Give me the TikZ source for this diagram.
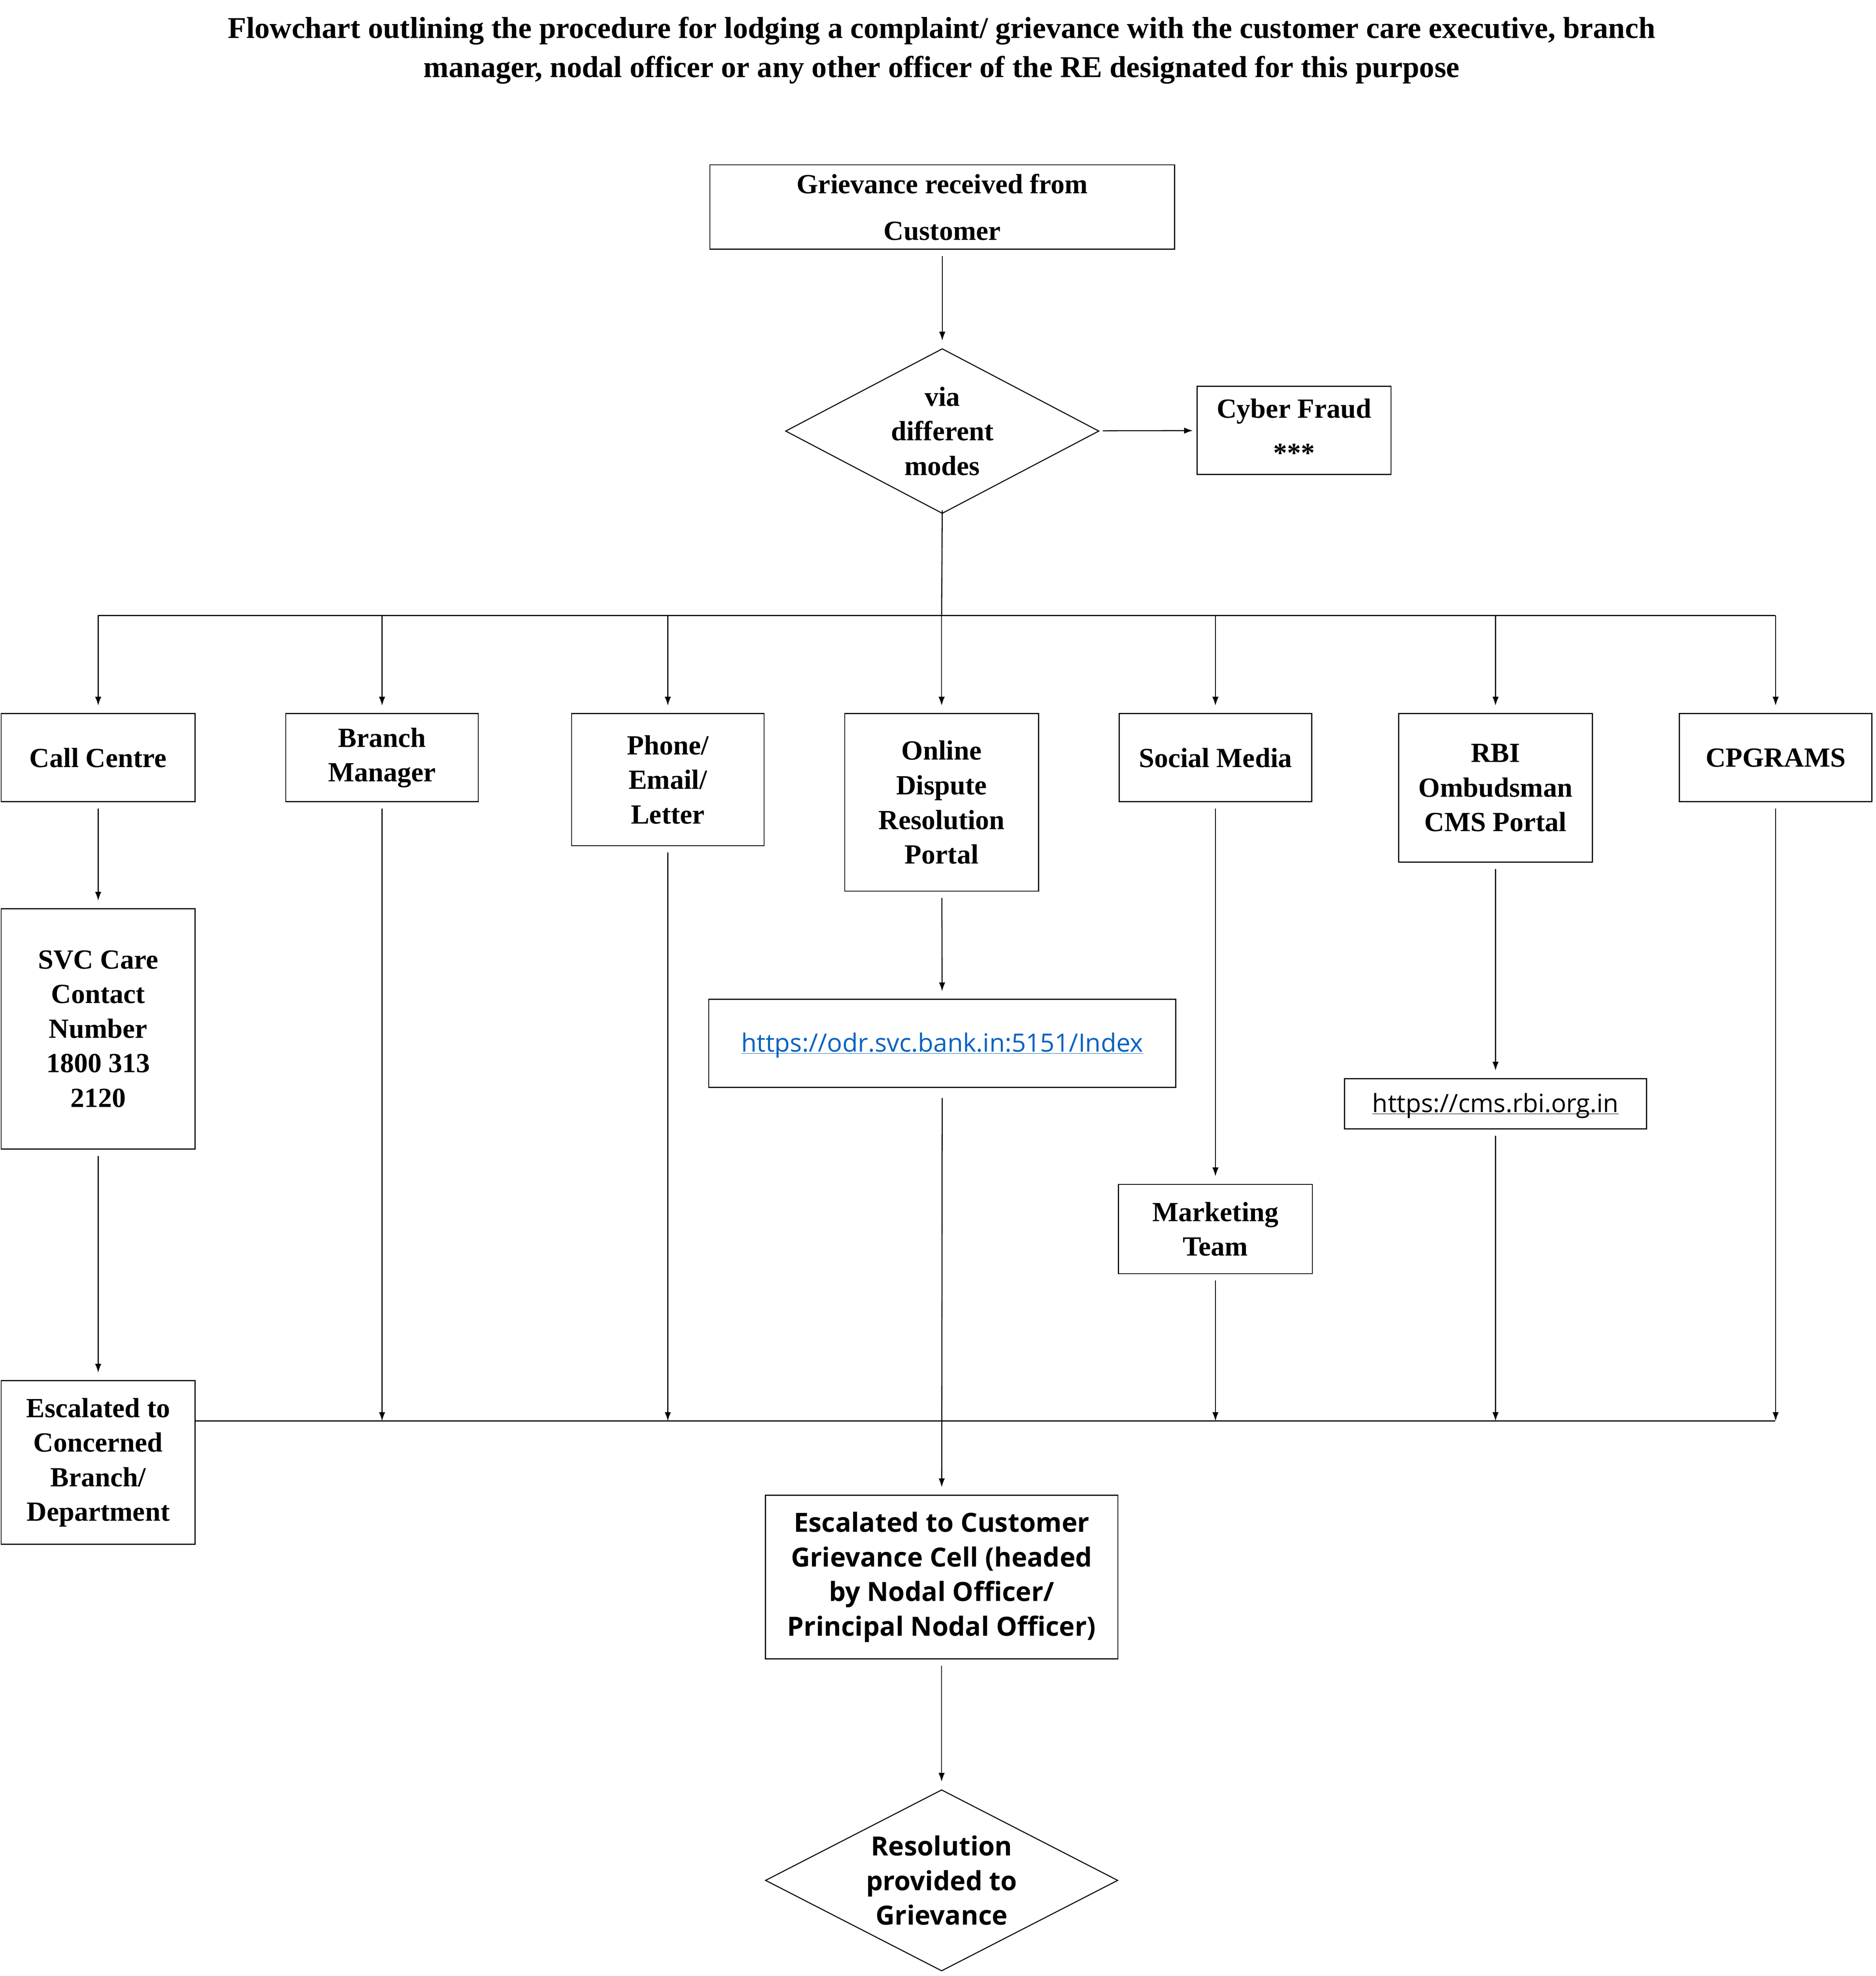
\documentclass[tikz,border=0pt]{standalone}
\usepackage{fontspec}
\setmainfont{Liberation Serif}
\newfontfamily\sansbold{Open Sans}
\newfontfamily\urlfont{Open Sans}
\usepackage{xcolor}
\usepackage{tikz}
\usetikzlibrary{positioning, arrows.meta, shapes.geometric, calc}

\definecolor{linkblue}{RGB}{5,99,193}

\begin{document}
\begin{tikzpicture}[x=1pt, y=-1pt,
    box/.style={draw, thick, rectangle, align=center, inner sep=2pt,
                font=\fontsize{22}{27.5}\selectfont\bfseries},
    sbox/.style={box, font=\fontsize{21}{27.5}\selectfont\sansbold\bfseries},
    dec/.style={draw, thick, diamond, aspect=1.75, inner sep=0pt, align=center,
                font=\fontsize{22}{27.5}\selectfont\bfseries},
    link/.style={thick, -{Latex[length=7pt,width=5pt]}},
    gap/.style={link, shorten <=5pt, shorten >=6pt},
    title/.style={font=\fontsize{24}{31}\selectfont\bfseries, align=center},
]
\useasboundingbox (0,0) rectangle (1490,1570);

% title
\node[title] (ttl) at (748,40) {Flowchart outlining the procedure for lodging a complaint/ grievance with the customer care executive, branch\\manager, nodal officer or any other officer of the RE designated for this purpose};

% top
\node[box, minimum width=369pt, minimum height=67pt, font=\fontsize{22}{37}\selectfont\bfseries] (recv) at (748.5,164.5) {Grievance received from\\Customer};
\node[dec, minimum width=249pt, minimum height=131pt] (modes) at (748.5,342.5) {via\\different\\modes};
\node[box, minimum width=154pt, minimum height=70pt, font=\fontsize{22}{35}\selectfont\bfseries] (cyber) at (1028,342) {Cyber Fraud\\***};
\draw[gap] (recv) -- (modes);
\draw[link, shorten <=3pt, shorten >=3pt] (modes) -- (cyber);

% channels
\node[box, minimum width=154pt, minimum height=70pt] (call) at (78,602) {Call Centre};
\node[box, minimum width=153pt, minimum height=70pt] (branch) at (303.5,602) {Branch\\Manager};
\node[box, minimum width=153pt, minimum height=105pt] (phone) at (530.5,619.5) {Phone/\\Email/\\Letter};
\node[box, minimum width=154pt, minimum height=141pt] (odr) at (748,637.5) {Online\\Dispute\\Resolution\\Portal};
\node[box, minimum width=153pt, minimum height=70pt] (social) at (965.5,602) {Social Media};
\node[box, minimum width=154pt, minimum height=118pt] (rbi) at (1188,626) {RBI\\Ombudsman\\CMS Portal};
\node[box, minimum width=153pt, minimum height=70pt] (cpg) at (1410.5,602) {CPGRAMS};

% bus
\coordinate (busL) at (78,489);
\coordinate (busR) at (1410,489);
\draw[thick] (modes.south) ++(0,3pt) -- (748,489);
\draw[thick] (busL) -- (busR);
\foreach \n in {call, branch, phone, odr, social, rbi, cpg}
  \draw[link, shorten >=6pt] (\n.north |- busL) -- (\n.north);

% second row
\node[box, minimum width=154pt, minimum height=191pt] (svc) at (78,817.5) {SVC Care\\Contact\\Number\\1800 313\\2120};
\node[box, minimum width=371pt, minimum height=70pt, font=\fontsize{20}{24}\selectfont\urlfont] (odrurl) at (748.5,829) {\textcolor{linkblue}{\underbar{https://odr.svc.bank.in:5151/Index}}};
\node[box, minimum width=154pt, minimum height=71pt] (mkt) at (965.5,976.5) {Marketing\\Team};
\node[box, minimum width=240pt, minimum height=40pt, font=\fontsize{20}{24}\selectfont\urlfont] (cms) at (1188,877) {\underbar{https://cms.rbi.org.in}};
\draw[gap] (call) -- (svc);
\draw[gap] (odr) -- (odrurl);
\draw[gap] (social) -- (mkt);
\draw[gap] (rbi) -- (cms);

% lower
\node[box, minimum width=154pt, minimum height=130pt] (conc) at (78,1162) {Escalated to\\Concerned\\Branch/\\Department};
\draw[gap] (svc) -- (conc);
\coordinate (lineR) at (1410,1129);
\draw[thick] (conc.east |- lineR) -- (lineR);
\foreach \n in {branch, phone, mkt, cms, cpg}
  \draw[link, shorten <=5pt] (\n.south) -- (\n.south |- lineR);

\node[sbox, minimum width=280pt, minimum height=130pt] (cell) at (748,1253) {Escalated to Customer\\Grievance Cell (headed\\by Nodal Officer/\\Principal Nodal Officer)};
\node[dec, minimum width=280pt, minimum height=144pt, aspect=1.95, font=\fontsize{21}{27.5}\selectfont\sansbold\bfseries] (res) at (748,1494) {Resolution\\provided to\\Grievance};
\draw[gap, shorten <=8pt] (odrurl) -- (cell);
\draw[gap] (cell) -- (res);
\end{tikzpicture}
\end{document}
